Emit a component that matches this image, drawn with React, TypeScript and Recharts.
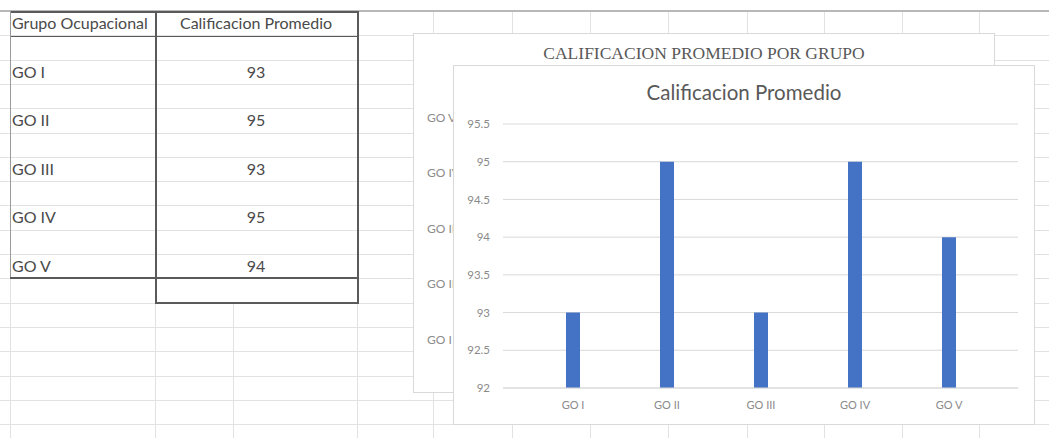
import React from 'react';
import { BarChart, Bar, XAxis, YAxis, CartesianGrid } from 'recharts';

// table + chart values
const groups = ['GO I', 'GO II', 'GO III', 'GO IV', 'GO V'];
const scores = [93, 95, 93, 95, 94];
const yTicks = [92, 92.5, 93, 93.5, 94, 94.5, 95, 95.5];
const tableHeaders = ['Grupo Ocupacional', 'Calificacion Promedio'];
const backTitle = 'CALIFICACION PROMEDIO POR GRUPO';
const frontTitle = 'Calificacion Promedio';

const data = groups.map((g, i) => ({ name: g, value: scores[i] }));

const GRID = '#e2e2e2';
const DARK = '#5a5a5a';
const TXT = '#4a4a4a';
const ROW0 = 11;
const ROWH = 24.3;
const colX = [10, 155, 357, 433, 512, 590, 668, 747, 824, 902, 979];
const sans = 'Lato, "Open Sans", sans-serif';

function Line({ x, y, w, h, c }: { x: number; y: number; w: number; h: number; c: string }) {
  return <div style={{ position: 'absolute', left: x, top: y, width: w, height: h, background: c }} />;
}

const cellText: React.CSSProperties = {
  position: 'absolute',
  height: ROWH,
  lineHeight: ROWH + 'px',
  fontFamily: sans,
  fontSize: 16,
  color: TXT,
  whiteSpace: 'nowrap',
};

function Sheet() {
  const rows = Array.from({ length: 18 }, (_, i) => ROW0 + i * ROWH);
  return (
    <>
      {rows.map((y, i) => (
        <Line key={'r' + i} x={0} y={y} w={1049} h={1} c={GRID} />
      ))}
      {colX.map((x, i) => (
        <Line key={'c' + i} x={x} y={11} w={1} h={427} c={GRID} />
      ))}
      <Line x={0} y={9.5} w={1049} h={2} c={'#b8b8b8'} />
      <Line x={233} y={303} w={1} h={135} c={GRID} />
      {/* table borders */}
      <Line x={10} y={11} w={347} h={1.5} c={DARK} />
      <Line x={10} y={36} w={347} h={1.2} c={DARK} />
      <Line x={10} y={11} w={1.2} h={268} c={'#9a9a9a'} />
      <Line x={155} y={11} w={1.5} h={292} c={DARK} />
      <Line x={357} y={11} w={1.5} h={293} c={DARK} />
      <Line x={10} y={277} w={348} h={1.5} c={DARK} />
      <Line x={155} y={302} w={203} h={1.5} c={DARK} />
      <div style={{ ...cellText, left: 12, top: ROW0 }}>{tableHeaders[0]}</div>
      <div style={{ ...cellText, left: 155, width: 202, textAlign: 'center', top: ROW0 }}>{tableHeaders[1]}</div>
      {groups.map((g, i) => {
        const top = ROW0 + (2 + i * 2) * ROWH;
        return (
          <React.Fragment key={g}>
            <div style={{ ...cellText, left: 12, top }}>{g}</div>
            <div style={{ ...cellText, left: 155, width: 202, textAlign: 'center', top }}>{scores[i]}</div>
          </React.Fragment>
        );
      })}
    </>
  );
}

function BackChart() {
  return (
    <div style={{ position: 'absolute', left: 413, top: 33, width: 582, height: 360, background: '#fff', border: '1px solid #d9d9d9', boxSizing: 'border-box' }}>
      <div style={{ position: 'absolute', left: 0, width: 580, top: 8.5, textAlign: 'center', fontFamily: '"Liberation Serif", "DejaVu Serif", serif', fontSize: 17.5, color: '#595959', whiteSpace: 'nowrap' }}>
        {backTitle}
      </div>
      <BarChart width={580} height={358} data={data} layout="vertical" margin={{ top: 56, right: 20, bottom: 25, left: 0 }}>
        <XAxis type="number" domain={[92, 95.5]} hide allowDataOverflow />
        <YAxis
          type="category"
          dataKey="name"
          reversed
          width={48}
          axisLine={false}
          tickLine={false}
          tickSize={0}
          tickMargin={35}
          tick={{ fontSize: 12, fill: '#8c8c8c', fontFamily: sans, textAnchor: 'start' }}
        />
        <Bar dataKey="value" fill="#4472C4" barSize={14} isAnimationActive={false} />
      </BarChart>
    </div>
  );
}

function FrontChart() {
  return (
    <div style={{ position: 'absolute', left: 453, top: 65, width: 582, height: 360, background: '#fff', border: '1px solid #d9d9d9', boxSizing: 'border-box' }}>
      <div style={{ position: 'absolute', left: 0, width: 580, top: 13.5, textAlign: 'center', fontFamily: sans, fontSize: 20.5, color: '#595959', whiteSpace: 'nowrap' }}>
        {frontTitle}
      </div>
      <BarChart width={580} height={358} data={data} margin={{ top: 58, right: 16, bottom: 0, left: 0 }}>
        <CartesianGrid vertical={false} stroke="#d9d9d9" />
        <XAxis
          dataKey="name"
          padding={{ left: 23, right: 22 }}
          axisLine={{ stroke: '#d9d9d9' }}
          tickLine={false}
          tickSize={0}
          tickMargin={13}
          height={36}
          tick={{ fontSize: 11, fill: '#8a8a8a', fontFamily: sans }}
        />
        <YAxis
          domain={[92, 95.5]}
          ticks={yTicks}
          allowDataOverflow
          width={49}
          axisLine={false}
          tickLine={false}
          tickSize={0}
          tickMargin={13}
          tick={{ fontSize: 11.5, fill: '#8a8a8a', fontFamily: sans }}
        />
        <Bar dataKey="value" fill="#4472C4" barSize={14} isAnimationActive={false} />
      </BarChart>
    </div>
  );
}

export default function App() {
  return (
    <div style={{ position: 'absolute', left: 0, top: 0, width: 1049, height: 438, overflow: 'hidden', background: '#fff' }}>
      <Sheet />
      <BackChart />
      <FrontChart />
    </div>
  );
}
